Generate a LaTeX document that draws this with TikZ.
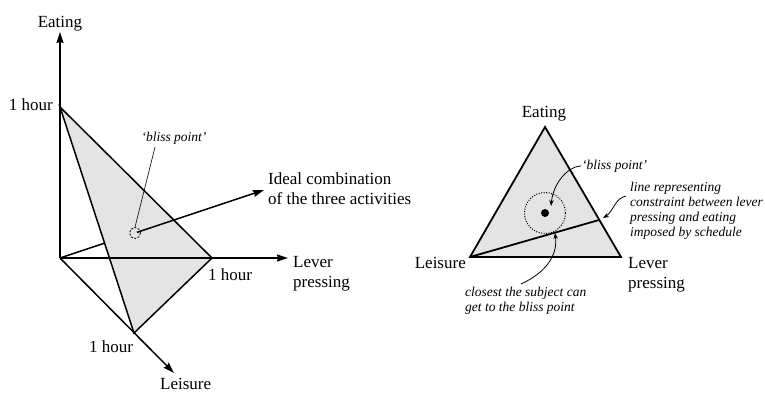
\documentclass[tikz,border=0pt]{standalone}
\usepackage{fontspec}
\setmainfont{Liberation Serif}
\usetikzlibrary{arrows.meta}
\definecolor{tri}{RGB}{228,228,228}
\begin{document}
\begin{tikzpicture}[x=1pt,y=-1pt,
  ax/.style={line width=1.5pt, -{Stealth[length=11pt,width=7pt,inset=1pt]}},
  edge/.style={line width=1.5pt},
  lab/.style={font=\fontsize{17}{20}\selectfont, inner sep=0pt},
  ital/.style={font=\fontsize{13.5}{15}\selectfont\itshape, inner sep=0pt},
  callout/.style={line width=0.8pt, -{Stealth[length=6pt,width=4.5pt]}}]
\useasboundingbox (0,0) rectangle (765,394);

% ---------- left diagram ----------
\coordinate (O) at (60,258);
\coordinate (E) at (60,107);
\coordinate (L) at (212,258);
\coordinate (S) at (134,333);
\coordinate (Etip) at (60,32);
\coordinate (Ltip) at (288,258);
\coordinate (Stip) at (174,373);
\coordinate (T) at (264,190);
\coordinate (Bc) at (135,233);

\fill[tri] (E) -- (L) -- (S) -- cycle;
\draw[edge] (O) -- (intersection of O--Bc and E--S);
\draw[ax] (O) -- (Etip);
\draw[ax] (O) -- (Ltip);
\draw[ax] (O) -- (Stip);
\draw[edge, line join=miter] (E) -- (L) -- (S) -- cycle;
\node[draw, dashed, circle, minimum size=11pt, inner sep=0pt, line width=0.8pt,
      dash pattern=on 2pt off 1.5pt] (B) at (Bc) {};
\draw[ax, shorten <=2pt] (Bc) -- (T);

\node[lab, anchor=base] (eatL) at (60,27) {Eating};
\node[lab, anchor=base east] (hE) at (53,110) {1 hour};
\node[lab, anchor=base west] (hL) at (208,280) {1 hour};
\node[lab, anchor=base west] (hS) at (89,352) {1 hour};
\node[lab, anchor=base west] (leisL) at (160,389) {Leisure};
\node[lab, anchor=base west, align=left] (levL) at (293,287) {Lever\\pressing};
\node[lab, anchor=base west, align=left] (ideal) at (268,204) {Ideal combination\\of the three activities};
\node[ital, anchor=base] (bl1) at (174,141) {`bliss point'};
\coordinate (bl1p) at (155,147);
\draw[line width=0.6pt] (bl1p) -- (B.north);

% ---------- right diagram ----------
\coordinate (A) at (545,127);
\coordinate (Lf) at (470,257);
\coordinate (R) at (621,257);
\coordinate (P) at (599,220);
\filldraw[fill=tri, line width=1.8pt, line join=miter] (A) -- (Lf) -- (R) -- cycle;
\draw[line width=1.8pt] (Lf) -- (P);
\node[circle, draw, minimum size=41pt, inner sep=0pt, line width=1pt,
      dash pattern=on 1pt off 1.5pt] (C) at (545,213) {};
\node[circle, fill, minimum size=8pt, inner sep=0pt] (dot) at (545,213) {};

\node[lab, anchor=base] (eatR) at (544,117) {Eating};
\node[lab, anchor=base east] (leisR) at (466,268) {Leisure};
\node[lab, anchor=base west, align=left] (levR) at (628,288) {Lever\\pressing};
\node[ital, anchor=base west] (bl2) at (582,169) {`bliss point'};
\node[ital, anchor=base west, align=left] (cons) at (630,236)
  {line representing\\constraint between lever\\pressing and eating\\imposed by schedule};
\node[ital, anchor=base west, align=left] (clos) at (465,311)
  {closest the subject can\\get to the bliss point};

\draw[callout, shorten <=1pt] (bl2.west) .. controls (566,167) and (553,185) .. (551,206);
\coordinate (c2s) at (626,196);
\draw[callout] (c2s) .. controls (615,198) and (613,212) .. (603,218);
\coordinate (c3s) at (521,284);
\draw[callout] (c3s) .. controls (545,273) and (558,256) .. (555,233);
\end{tikzpicture}
\end{document}
